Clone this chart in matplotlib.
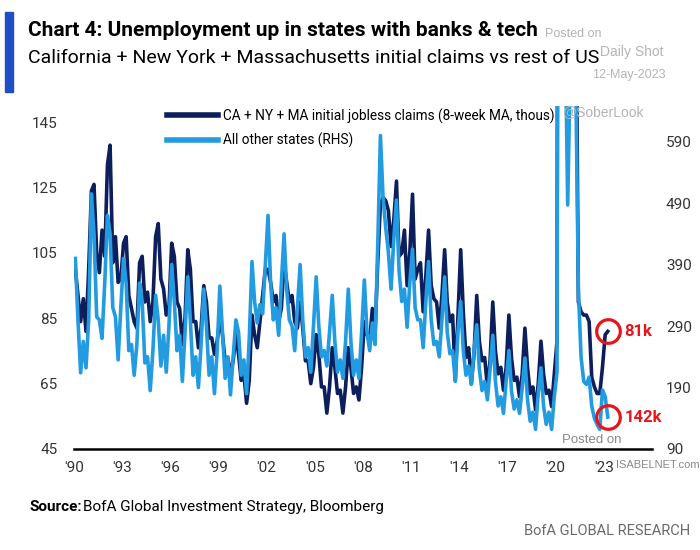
import matplotlib
matplotlib.use("Agg")
import matplotlib.pyplot as plt
from matplotlib.patches import Rectangle
import pandas as pd

plt.rcParams['font.family'] = ['Roboto', 'Liberation Sans', 'DejaVu Sans']

# bi-monthly samples (Feb, Apr, Jun, Aug, Oct, Dec), Feb 1990 .. Apr 2023
# CA + NY + MA initial claims, 8-week MA, thous (LHS)
ca_ny_ma = [
    100, 92, 84, 91, 81, 100,     # 1990
    124, 126, 105, 99, 112, 104,  # 1991
    132, 138, 102, 110, 96, 97,   # 1992
    108, 110, 92, 88, 84, 82,     # 1993
    102, 104, 90, 93, 84, 90,     # 1994
    110, 114, 97, 94, 86, 88,     # 1995
    108, 104, 90, 88, 77, 85,     # 1996
    106, 100, 84, 84, 76, 82,     # 1997
    95, 90, 79, 79, 74, 78,       # 1998
    85, 80, 72, 73, 68, 72,       # 1999
    80, 74, 66, 68, 59, 66,       # 2000
    86, 80, 76, 84, 92, 100,      # 2001
    100, 96, 90, 92, 84, 88,      # 2002
    102, 96, 90, 92, 84, 82,      # 2003
    90, 82, 72, 72, 65, 70,       # 2004
    80, 74, 64, 64, 56, 64,       # 2005
    76, 70, 62, 63, 56, 64,       # 2006
    76, 70, 62, 64, 60, 70,       # 2007
    84, 80, 78, 88, 80, 102,      # 2008
    120, 122, 121, 118, 107, 115, # 2009
    127, 104, 105, 112, 95, 105,  # 2010
    123, 97, 100, 102, 87, 98,    # 2011
    112, 95, 91, 90, 82, 92,      # 2012
    106, 90, 84, 86, 66, 86,      # 2013
    106, 87, 73, 76, 65, 74,      # 2014
    92, 78, 72, 73, 64, 72,       # 2015
    90, 75, 68, 70, 63, 70,       # 2016
    86, 73, 66, 67, 61, 68,       # 2017
    82, 70, 62, 64, 57, 65,       # 2018
    78, 68, 62, 63, 58, 68,       # 2019
    78, 600, 450, 300, 220, 250,  # 2020
    260, 200, 90, 87, 86, 86,     # 2021
    84, 67, 64, 62, 62, 70,       # 2022
    80, 81,                       # 2023
]

# all other states (RHS)
other_states = [
    400, 300, 214, 265, 222, 300,  # 1990
    505, 440, 305, 300, 270, 360,  # 1991
    470, 440, 320, 305, 235, 320,  # 1992
    400, 360, 250, 260, 210, 260,  # 1993
    360, 330, 230, 240, 185, 250,  # 1994
    340, 300, 225, 275, 215, 290,  # 1995
    390, 330, 250, 275, 200, 280,  # 1996
    370, 300, 210, 240, 190, 260,  # 1997
    350, 290, 210, 240, 180, 250,  # 1998
    355, 280, 205, 240, 178, 240,  # 1999
    300, 280, 210, 235, 180, 270,  # 2000
    395, 330, 295, 325, 310, 390,  # 2001
    470, 360, 300, 320, 275, 360,  # 2002
    440, 350, 300, 290, 250, 320,  # 2003
    390, 300, 240, 255, 215, 290,  # 2004
    370, 290, 240, 250, 225, 280,  # 2005
    340, 265, 215, 235, 205, 265,  # 2006
    350, 265, 210, 235, 205, 280,  # 2007
    365, 280, 250, 295, 260, 420,  # 2008
    600, 500, 450, 410, 350, 430,  # 2009
    495, 380, 330, 350, 288, 360,  # 2010
    415, 320, 300, 300, 255, 330,  # 2011
    395, 300, 260, 265, 240, 300,  # 2012
    370, 280, 245, 250, 200, 280,  # 2013
    330, 250, 210, 225, 195, 250,  # 2014
    292, 220, 185, 200, 170, 220,  # 2015
    275, 200, 160, 175, 148, 200,  # 2016
    250, 185, 155, 170, 148, 190,  # 2017
    238, 170, 135, 150, 122, 180,  # 2018
    222, 160, 130, 150, 122, 175,  # 2019
    215, 2500, 1500, 800, 487, 720,  # 2020
    800, 700, 350, 240, 200, 195,  # 2021
    207, 160, 140, 130, 122, 186,  # 2022
    175, 142,                      # 2023
]

tick_years = [1990, 1993, 1996, 1999, 2002, 2005, 2008, 2011, 2014, 2017, 2020, 2023]
tick_labels = ["'90", "'93", "'96", "'99", "'02", "'05", "'08", "'11", "'14", "'17", "'20", "'23"]
left_ticks = [45, 65, 85, 105, 125, 145]
right_ticks = [90, 190, 290, 390, 490, 590]

DARK = '#0c1f5c'
LIGHT = '#229be0'
RED = '#e8141c'
GREY = '#b4b4b4'

dates = pd.date_range('1990-02-01', periods=len(ca_ny_ma), freq='2MS')

fig = plt.figure(figsize=(7, 5.5), dpi=100)
ax = fig.add_axes([74/700, 1-449/550, (652-74)/700, (449-106)/550])
ax2 = ax.twinx()

l1, = ax.plot(dates, ca_ny_ma, color=DARK, lw=2.6, solid_joinstyle='round')
l2, = ax2.plot(dates, other_states, color=LIGHT, lw=2.6, solid_joinstyle='round')

ax.set_ylim(45, 150)
ax2.set_ylim(90, 648)
ax.set_yticks(left_ticks)
ax2.set_yticks(right_ticks)
ax.set_xlim(pd.Timestamp('1990-01-01'), pd.Timestamp('2026-01-01'))
ax.set_xticks([pd.Timestamp(f'{y}-01-01') for y in tick_years])
ax.set_xticklabels(tick_labels)

for a in (ax, ax2):
    for s in a.spines.values():
        s.set_visible(False)
ax.spines['bottom'].set_visible(True)
ax.spines['bottom'].set_linewidth(1.8)
ax.spines['bottom'].set_color('black')
ax.tick_params(axis='both', length=0, labelsize=11, colors='#333333')
ax.tick_params(axis='y', pad=12)
ax.tick_params(axis='x', pad=9)
ax2.tick_params(axis='y', length=0, labelsize=11, colors='#333333', pad=10)

# red circles on the latest readings
ax.plot(dates[-1], ca_ny_ma[-1], marker='o', ms=17, mfc='none', mec=RED, mew=2.3, zorder=6, clip_on=False)
ax2.plot(dates[-1], other_states[-1], marker='o', ms=17, mfc='none', mec=RED, mew=2.3, zorder=6, clip_on=False)
ax.annotate('81k', xy=(dates[-1], ca_ny_ma[-1]), xytext=(12, 0), textcoords='offset points',
            color=RED, fontsize=12, fontweight='bold', va='center')
ax2.annotate('142k', xy=(dates[-1], other_states[-1]), xytext=(12, 0), textcoords='offset points',
             color=RED, fontsize=12, fontweight='bold', va='center')

leg = ax2.legend([l1, l2], ['CA + NY + MA initial jobless claims (8-week MA, thous)', 'All other states (RHS)'],
                 loc='upper left', bbox_to_anchor=(155/700, 1-96/550), bbox_transform=fig.transFigure,
                 frameon=False, handlelength=3.7, fontsize=9.8, labelspacing=0.7, handletextpad=0.4)
for ln in leg.get_lines():
    ln.set_linewidth(4)

# header
fig.patches.append(Rectangle((5/700, 1-92/550), 8/700, 80/550, transform=fig.transFigure,
                             color='#1f4fc6', zorder=3))
fig.text(28/700, 1-30/550, 'Chart 4: Unemployment up in states with banks & tech',
         fontsize=15, fontweight='bold', va='center')
fig.text(28/700, 1-58/550, 'California + New York + Massachusetts initial claims vs rest of US',
         fontsize=14, va='center')

# watermarks
wm = dict(color=GREY, fontsize=9, family=['Liberation Sans', 'DejaVu Sans'])
fig.text(545/700, 1-34/550, 'Posted on', va='center', **wm)
fig.text(600/700, 1-52/550, 'Daily Shot', va='center', fontsize=10, color=GREY, family=['Liberation Sans', 'DejaVu Sans'])
fig.text(592/700, 1-75/550, '12-May-2023', va='center', **wm)
fig.text(563/700, 1-112/550, '@SoberLook', va='center', fontsize=10, color=GREY, family=['Liberation Sans', 'DejaVu Sans'])
fig.text(562/700, 1-440/550, 'Posted on', va='center', fontsize=9.5, color='#888888', family=['Liberation Sans', 'DejaVu Sans'])
fig.text(616/700, 1-465/550, 'ISABELNET.com', va='center', fontsize=8, color='#888888', family=['Liberation Sans', 'DejaVu Sans'])

# footer
fig.text(30/700, 1-507/550, 'Source:', fontsize=11, fontweight='bold', va='center')
fig.text(83/700, 1-507/550, 'BofA Global Investment Strategy, Bloomberg', fontsize=11, va='center')
fig.text(690/700, 1-531/550, 'BofA GLOBAL RESEARCH', fontsize=10.5, color='#6a6a6a', ha='right', va='center')

fig.savefig('out.png', dpi=100)
